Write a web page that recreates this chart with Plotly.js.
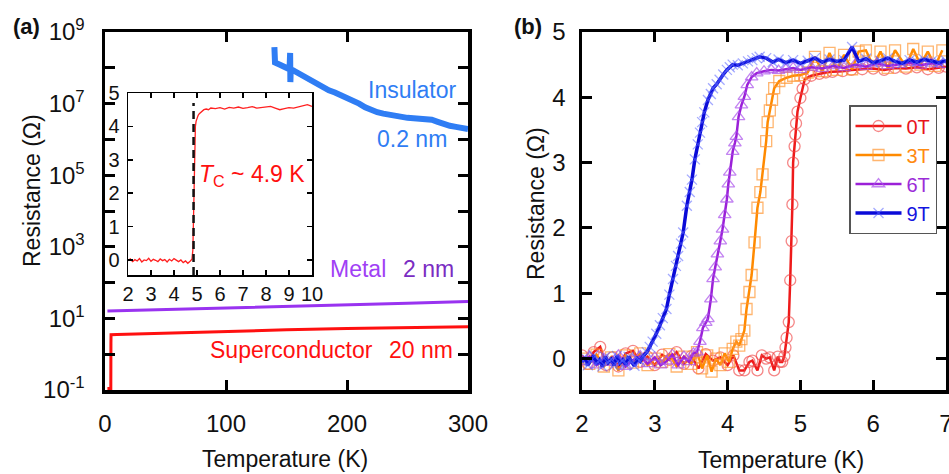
<!DOCTYPE html>
<html><head><meta charset="utf-8">
<script src="https://cdn.plot.ly/plotly-3.0.1.min.js"></script>
<style>html,body{margin:0;padding:0;background:#fff}#chart{width:949px;height:474px}</style>
</head><body><div id="chart"></div>
<script>
// ---------- Panel (a): R(T) on log scale ----------
const insT = [140, 140, 140.5, 145, 150, 152.5, 153, 153.2, 153.5, 155, 160, 165, 170, 175, 180, 185, 190, 195, 200, 205, 210, 215, 220, 225, 230, 235, 240, 245, 250, 255, 260, 265, 270, 275, 280, 285, 290, 295, 300];
const insR = [3.8e8, 1.45e8, 1.4e8, 1.2e8, 1.0e8, 9.1e7, 2.6e8, 4.0e7, 9.0e7, 8.7e7, 6.9e7, 5.5e7, 4.4e7, 3.5e7, 2.75e7, 2.35e7, 2.04e7, 1.74e7, 1.51e7, 1.23e7, 1.0e7, 7.9e6, 6.5e6, 5.75e6, 5.25e6, 4.8e6, 4.45e6, 4.2e6, 4.0e6, 3.9e6, 3.8e6, 3.7e6, 3.55e6, 3.1e6, 2.63e6, 2.4e6, 2.24e6, 2.09e6, 1.95e6];
const metT = [2, 50, 100, 150, 200, 250, 300];
const metR = [16, 17.8, 19.6, 21.6, 23.8, 26.5, 29.5];
const supT = [2, 3, 4, 4.8, 4.9, 5, 10, 50, 100, 150, 200, 250, 300];
const supR = [0.11, 0.11, 0.11, 0.11, 2.0, 3.5, 3.55, 3.9, 4.3, 4.8, 5.2, 5.5, 5.8];
const aTickX = [0, 100, 200, 300];
const aTickY = [0.1, 10, 1e3, 1e5, 1e7, 1e9];
const aTickYText = ['10<sup>-1</sup>', '10<sup>1</sup>', '10<sup>3</sup>', '10<sup>5</sup>', '10<sup>7</sup>', '10<sup>9</sup>'];
const aMinorY = [1, 100, 1e4, 1e6, 1e8];

// ---------- Inset of (a): 20 nm film near Tc ----------
const inT = [2.0, 2.1, 2.2, 2.3, 2.4, 2.5, 2.6, 2.7, 2.8, 2.9, 3.0, 3.1, 3.2, 3.3, 3.4, 3.5, 3.6, 3.7, 3.8, 3.9, 4.0, 4.1, 4.2, 4.3, 4.4, 4.5, 4.6, 4.7, 4.78, 4.82, 4.85, 4.88, 4.9, 4.93, 4.96, 5.0, 5.05, 5.1, 5.2, 5.3, 5.4, 5.5, 5.6, 5.8, 6.0, 6.2, 6.4, 6.6, 6.8, 7.0, 7.2, 7.4, 7.6, 7.8, 8.0, 8.2, 8.4, 8.6, 8.8, 9.0, 9.2, 9.4, 9.6, 9.8, 10.0];
const inR = [-0.02, 0.03, -0.05, 0.01, -0.03, 0.04, -0.06, 0.0, -0.02, 0.05, -0.04, 0.02, -0.01, -0.05, 0.03, -0.02, 0.01, -0.06, 0.02, -0.03, 0.04, -0.01, -0.05, 0.0, -0.08, -0.03, -0.1, -0.04, 0.02, 0.3, 1.2, 2.6, 3.6, 4.0, 4.15, 4.25, 4.33, 4.38, 4.45, 4.5, 4.52, 4.5, 4.55, 4.53, 4.56, 4.52, 4.57, 4.55, 4.58, 4.54, 4.56, 4.59, 4.55, 4.57, 4.58, 4.6, 4.55, 4.5, 4.53, 4.56, 4.55, 4.58, 4.62, 4.65, 4.6];
const tcT = [4.85, 4.85];
const tcR = [-0.45, 4.7];
const inTickX = [2, 3, 4, 5, 6, 7, 8, 9, 10];
const inTickY = [0, 1, 2, 3, 4, 5];

// ---------- Panel (b): field dependence ----------
const T0 = [2.0, 2.08, 2.16, 2.25, 2.33, 2.42, 2.5, 2.6, 2.7, 2.8, 2.9, 3.0, 3.1, 3.2, 3.3, 3.4, 3.5, 3.6, 3.7, 3.8, 3.9, 4.0, 4.08, 4.16, 4.23, 4.3, 4.34, 4.41, 4.47, 4.53, 4.58, 4.64, 4.69, 4.72, 4.75, 4.78, 4.795, 4.81, 4.84, 4.86, 4.88, 4.89, 4.9, 4.92, 4.93, 4.94, 4.96, 5.0, 5.03, 5.06, 5.15, 5.26, 5.35, 5.44, 5.58, 5.7, 5.85, 6.0, 6.15, 6.3, 6.45, 6.6, 6.75, 6.9, 7.0];
const R0 = [0.05, -0.08, 0.1, 0.18, -0.1, 0.02, -0.12, 0.08, 0.12, -0.05, 0.03, -0.1, 0.06, -0.02, 0.1, -0.08, 0.04, -0.15, 0.07, -0.03, 0.02, -0.1, 0.05, -0.18, -0.18, -0.05, -0.03, -0.18, 0.05, 0.0, 0.02, -0.18, 0.03, -0.05, -0.05, 0.04, 0.17, 0.32, 0.56, 1.2, 1.8, 2.36, 3.0, 3.25, 3.43, 3.6, 3.78, 3.99, 4.13, 4.28, 4.33, 4.36, 4.38, 4.39, 4.4, 4.42, 4.43, 4.44, 4.42, 4.45, 4.44, 4.46, 4.43, 4.45, 4.47];
const T3 = [2.0, 2.1, 2.2, 2.3, 2.4, 2.5, 2.6, 2.7, 2.8, 2.9, 3.0, 3.1, 3.2, 3.3, 3.4, 3.5, 3.58, 3.65, 3.72, 3.78, 3.84, 3.9, 3.96, 4.02, 4.07, 4.12, 4.16, 4.19, 4.23, 4.26, 4.3, 4.33, 4.37, 4.41, 4.45, 4.48, 4.53, 4.55, 4.58, 4.61, 4.64, 4.71, 4.81, 4.9, 5.0, 5.1, 5.2, 5.3, 5.4, 5.5, 5.6, 5.71, 5.8, 5.9, 6.0, 6.1, 6.2, 6.3, 6.45, 6.55, 6.65, 6.75, 6.85, 6.95];
const R3 = [0.0, -0.08, 0.06, -0.12, 0.02, -0.18, 0.05, -0.06, 0.08, -0.1, 0.0, -0.05, 0.07, -0.12, 0.03, -0.08, 0.1, -0.15, 0.05, -0.2, 0.0, -0.1, 0.08, -0.05, 0.15, 0.26, 0.2, 0.3, 0.43, 0.76, 1.02, 1.28, 1.78, 2.31, 2.55, 2.82, 3.33, 3.62, 3.8, 3.96, 4.14, 4.25, 4.3, 4.33, 4.34, 4.38, 4.62, 4.4, 4.68, 4.42, 4.65, 4.43, 4.7, 4.72, 4.48, 4.7, 4.45, 4.72, 4.47, 4.74, 4.5, 4.7, 4.48, 4.72];
const T6 = [2.0, 2.1, 2.2, 2.3, 2.4, 2.5, 2.6, 2.7, 2.8, 2.9, 3.0, 3.08, 3.16, 3.24, 3.32, 3.4, 3.47, 3.53, 3.58, 3.62, 3.66, 3.7, 3.73, 3.77, 3.8, 3.83, 3.86, 3.9, 3.93, 3.96, 3.99, 4.01, 4.03, 4.07, 4.1, 4.12, 4.15, 4.19, 4.23, 4.27, 4.33, 4.4, 4.5, 4.6, 4.7, 4.8, 4.9, 5.0, 5.15, 5.3, 5.45, 5.6, 5.75, 5.9, 6.05, 6.2, 6.35, 6.5, 6.65, 6.8, 6.95];
const R6 = [-0.05, 0.03, -0.1, 0.0, -0.06, 0.05, -0.12, -0.02, 0.04, -0.08, 0.02, -0.1, -0.04, 0.06, -0.1, 0.03, -0.05, 0.08, 0.1, 0.26, 0.47, 0.55, 0.61, 0.91, 1.22, 1.4, 1.6, 1.8, 1.98, 2.2, 2.44, 2.67, 2.85, 3.17, 3.3, 3.4, 3.7, 3.88, 4.01, 4.19, 4.31, 4.37, 4.4, 4.42, 4.41, 4.43, 4.45, 4.42, 4.46, 4.44, 4.48, 4.45, 4.5, 4.47, 4.52, 4.48, 4.5, 4.53, 4.49, 4.52, 4.5];
const T9 = [2.0, 2.04, 2.08, 2.12, 2.16, 2.2, 2.24, 2.28, 2.32, 2.36, 2.4, 2.44, 2.48, 2.52, 2.56, 2.6, 2.64, 2.68, 2.72, 2.76, 2.8, 2.84, 2.89, 2.93, 2.97, 3.02, 3.07, 3.11, 3.16, 3.2, 3.25, 3.29, 3.32, 3.36, 3.39, 3.44, 3.48, 3.51, 3.55, 3.59, 3.62, 3.65, 3.68, 3.73, 3.77, 3.8, 3.85, 3.89, 3.94, 3.99, 4.03, 4.07, 4.14, 4.21, 4.28, 4.34, 4.4, 4.44, 4.53, 4.62, 4.7, 4.8, 4.9, 5.0, 5.1, 5.2, 5.3, 5.4, 5.5, 5.6, 5.71, 5.8, 5.9, 6.0, 6.1, 6.2, 6.3, 6.4, 6.5, 6.6, 6.7, 6.8, 6.9, 7.0];
const R9 = [-0.05, 0.02, -0.1, -0.03, 0.05, -0.08, -0.02, -0.12, 0.03, -0.06, -0.01, -0.1, 0.04, -0.07, -0.02, -0.09, 0.03, -0.05, -0.11, 0.0, -0.04, 0.04, 0.1, 0.18, 0.26, 0.38, 0.51, 0.62, 0.76, 0.98, 1.22, 1.42, 1.57, 1.76, 1.93, 2.34, 2.55, 2.74, 3.05, 3.28, 3.46, 3.62, 3.77, 3.96, 4.05, 4.14, 4.2, 4.27, 4.35, 4.42, 4.46, 4.5, 4.49, 4.52, 4.55, 4.57, 4.6, 4.62, 4.6, 4.54, 4.58, 4.53, 4.57, 4.52, 4.56, 4.6, 4.54, 4.58, 4.55, 4.57, 4.77, 4.55, 4.59, 4.53, 4.56, 4.6, 4.55, 4.52, 4.57, 4.54, 4.58, 4.55, 4.53, 4.56];
const fieldNames = ['0T', '3T', '6T', '9T'];
const bTickX = [2, 3, 4, 5, 6, 7];
const bTickY = [0, 1, 2, 3, 4, 5];

// ---------- layout helpers ----------
const W = 949, H = 474;
const FONT = '"Liberation Sans", Arial, sans-serif';
const px = v => v / W;
const py = v => 1 - v / H;

const base = {showline: true, linecolor: '#000', mirror: 'ticks', ticks: 'inside', showgrid: false,
  zeroline: false, tickcolor: '#000', ticklabeloverflow: 'allow',
  tickfont: {family: FONT, size: 24, color: '#111'}};

const traces = [
  {x: insT, y: insR, xaxis: 'x', yaxis: 'y', mode: 'lines', showlegend: false, line: {color: '#2F7DF4', width: 6}},
  {x: metT, y: metR, xaxis: 'x', yaxis: 'y', mode: 'lines', showlegend: false, line: {color: '#9933F0', width: 3}},
  {x: supT, y: supR, xaxis: 'x', yaxis: 'y', mode: 'lines', showlegend: false, line: {color: '#FF1010', width: 3}},
  {x: inT, y: inR, xaxis: 'x3', yaxis: 'y3', mode: 'lines', showlegend: false, line: {color: '#FF2020', width: 1.3}},
  {x: tcT, y: tcR, xaxis: 'x3', yaxis: 'y3', mode: 'lines', showlegend: false, line: {color: '#111', width: 2.5, dash: '8px,5px'}},
];

const bSeries = [
  {x: T0, y: R0, line: '#EE1A1A', mk: 'rgba(240,70,70,0.65)', sym: 'circle-open', size: 11, txt: '#E8141C', lw: 2.5},
  {x: T3, y: R3, line: '#FF8A00', mk: 'rgba(255,150,50,0.7)', sym: 'square-open', size: 11, txt: '#FF8A10', lw: 2.5},
  {x: T6, y: R6, line: '#9B20D8', mk: 'rgba(170,80,235,0.7)', sym: 'triangle-up-open', size: 11, txt: '#9B2BD8', lw: 2.5},
  {x: T9, y: R9, line: '#0A0AD8', mk: 'rgba(90,100,255,0.55)', sym: 'x-thin-open', size: 10, txt: '#1414E0', lw: 3.5},
];
bSeries.forEach((s, i) => {
  traces.push({x: s.x, y: s.y, xaxis: 'x2', yaxis: 'y2', mode: 'lines+markers',
    name: '<span style="color:' + s.txt + '">' + fieldNames[i] + '</span>',
    line: {color: s.line, width: s.lw},
    marker: {symbol: s.sym, size: s.size, color: s.mk, line: {color: s.mk, width: 1.3}}});
});

const ann = (text, x, y, size, color, extra) => Object.assign({text: text, xref: 'paper', yref: 'paper',
  x: px(x), y: py(y), xanchor: 'center', yanchor: 'middle', showarrow: false,
  font: {family: FONT, size: size, color: color}}, extra || {});

const layout = {
  width: W, height: H, margin: {l: 0, r: 0, t: 0, b: 0},
  paper_bgcolor: '#fff', plot_bgcolor: 'rgba(0,0,0,0)',
  font: {family: FONT, color: '#111'},
  xaxis: Object.assign({}, base, {domain: [px(105), px(468)], range: [0, 300], tickvals: aTickX,
    linewidth: 3.5, tickwidth: 3, ticklen: 10, anchor: 'y', ticklabelstandoff: 10}),
  yaxis: Object.assign({}, base, {type: 'log', domain: [py(390), py(32)], range: [-1, 9],
    tickvals: aTickY, ticktext: aTickYText, linewidth: 3.5, tickwidth: 3, ticklen: 10, anchor: 'x', ticklabelstandoff: 12,
    minor: {tickmode: 'array', tickvals: aMinorY, ticks: 'inside', ticklen: 10, tickwidth: 3, tickcolor: '#000', showgrid: false}}),
  xaxis2: Object.assign({}, base, {domain: [px(582), px(946)], range: [2, 7], tickvals: bTickX,
    linewidth: 3.5, tickwidth: 3, ticklen: 10, anchor: 'y2', ticklabelstandoff: 10}),
  yaxis2: Object.assign({}, base, {domain: [py(390), py(32)], range: [-0.48, 5], tickvals: bTickY,
    linewidth: 3.5, tickwidth: 3, ticklen: 10, anchor: 'x2', ticklabelstandoff: 8}),
  xaxis3: Object.assign({}, base, {domain: [px(128), px(312)], range: [2, 10], tickvals: inTickX,
    linewidth: 1.5, tickwidth: 1.5, ticklen: 5, anchor: 'y3', ticklabelstandoff: 0,
    tickfont: {family: FONT, size: 20, color: '#111'}}),
  yaxis3: Object.assign({}, base, {domain: [py(275), py(93)], range: [-0.45, 5], tickvals: inTickY,
    linewidth: 1.5, tickwidth: 1.5, ticklen: 5, anchor: 'x3', ticklabelstandoff: 3,
    tickfont: {family: FONT, size: 20, color: '#111'}}),
  legend: {x: px(849), y: py(105), xanchor: 'left', yanchor: 'top', bgcolor: '#fff',
    bordercolor: '#555', borderwidth: 1.5, font: {family: FONT, size: 20}, tracegroupgap: 0, itemwidth: 46},
  annotations: [
    ann('<b>(a)</b>', 26, 27, 22, '#111'),
    ann('<b>(b)</b>', 528, 27, 22, '#111'),
    ann('Temperature (K)', 285, 459, 23, '#111'),
    ann('Resistance (Ω)', 32, 191, 23, '#111', {textangle: -90}),
    ann('Temperature (K)', 781, 460, 23, '#111'),
    ann('Resistance (Ω)', 536, 204, 23, '#111', {textangle: -90}),
    ann('Insulator', 412, 90, 23, '#2F7DF4'),
    ann('0.2 nm', 412, 139, 23, '#2F7DF4'),
    ann('Metal', 358, 269, 23, '#A040F5'),
    ann('2 nm', 428, 269, 23, '#7A2CC2'),
    ann('Superconductor', 291, 350, 23, '#FF1010'),
    ann('20 nm', 421, 350, 23, '#FF1010'),
    ann('<i>T</i><sub>C</sub> ~ 4.9 K', 252, 175, 23, '#FF1010'),
  ],
};

Plotly.newPlot('chart', traces, layout, {staticPlot: true, displayModeBar: false});
</script>
</body></html>
